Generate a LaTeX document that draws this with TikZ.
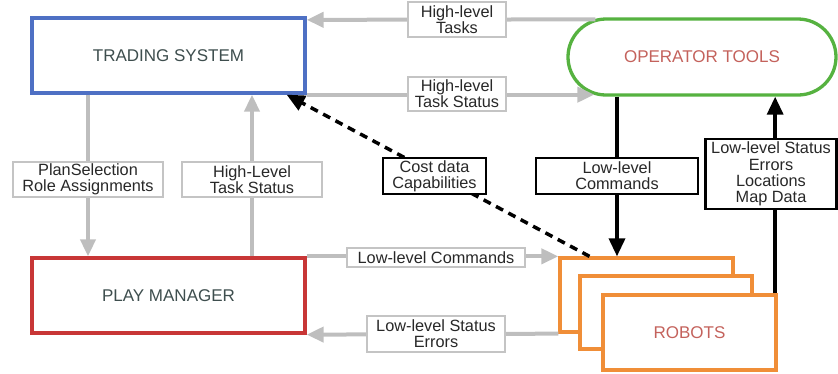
\documentclass[tikz,border=0pt]{standalone}
\usepackage{fontspec}
\setmainfont{Liberation Sans}
\usetikzlibrary{arrows.meta}

\definecolor{tsblue}{RGB}{78,112,196}
\definecolor{otgreen}{RGB}{86,178,64}
\definecolor{pmred}{RGB}{200,54,54}
\definecolor{roborange}{RGB}{240,142,56}
\definecolor{arrgray}{RGB}{190,190,190}
\definecolor{lblgray}{RGB}{196,196,196}
\definecolor{lbltext}{RGB}{40,40,40}
\definecolor{slatetext}{RGB}{62,78,78}
\definecolor{rosetext}{RGB}{196,98,92}

\tikzset{
  mainbox/.style={draw, line width=3.3pt, fill=white, inner sep=0pt, font=\fontsize{17}{18}\selectfont},
  graylbl/.style={draw=lblgray, line width=2.2pt, fill=white, inner sep=0pt, align=center, text=lbltext, font=\fontsize{16.3}{16.3}\selectfont},
  blacklbl/.style={graylbl, draw=black},
  grayarrow/.style={draw=arrgray, line width=4pt, -{Triangle[length=17pt,width=15pt]}},
  blackarrow/.style={draw=black, line width=3.5pt, -{Triangle[length=18pt,width=16pt]}},
  dasharrow/.style={blackarrow, dash pattern=on 8pt off 6pt},
}

\begin{document}
\begin{tikzpicture}[x=1pt,y=-1pt]
\useasboundingbox (0,0) rectangle (838,373);

%Shape: main boxes
\node [mainbox, draw=tsblue, text=slatetext, minimum width=273pt, minimum height=75pt] (ts) at (168.5,55.5) {TRADING SYSTEM};
\node [mainbox, draw=pmred, text=slatetext, minimum width=273pt, minimum height=75pt] (pm) at (168.5,295.5) {PLAY MANAGER};
\node [mainbox, draw=otgreen, text=rosetext, rounded corners=38pt, minimum width=268pt, minimum height=76pt] (ot) at (702,57) {OPERATOR TOOLS};

%Shape: robot stack
\node [mainbox, draw=roborange, minimum width=173pt, minimum height=74pt] (r1) at (646.5,295) {};
\node [mainbox, draw=roborange, minimum width=172pt, minimum height=73pt] (r2) at (666,312.5) {};
\node [mainbox, draw=roborange, text=rosetext, minimum width=173pt, minimum height=75pt] (r3) at (689.5,332.5) {ROBOTS};

%Straight Lines: gray links
\draw [grayarrow] ([xshift=29pt,yshift=-2pt]ot.north west) -- ([yshift=-3.5pt]ts.north east);
\draw [grayarrow] (ts.south east) -- ([xshift=28pt,yshift=2pt]ot.south west);
\draw [grayarrow] (ts.south -| 88,0) coordinate (ps) -- (pm.north -| ps);
\draw [grayarrow] (pm.north -| 252,0) coordinate (hs) -- (ts.south -| hs);
\draw [grayarrow] (pm.north east) -- (r1.north west);
\draw [grayarrow] (r1.south west) -- (pm.south east);

%Straight Lines: black links
\draw [blackarrow] (ot.south -| 617,0) coordinate (lc) -- (r1.north -| lc);
\draw [blackarrow] ([xshift=-2.5pt]r3.north east) coordinate (ls) -- (ot.south -| ls);
\draw [dasharrow] ([xshift=-57pt]r1.north) -- ([xshift=-20pt]ts.south east);

% Text Node
\node [graylbl, minimum width=98pt, minimum height=35pt] (hltasks) at (457,19.5) {High-level\\Tasks};
% Text Node
\node [graylbl, minimum width=98pt, minimum height=34pt] (hlstat) at (457,94) {High-level\\Task Status};
% Text Node
\node [graylbl, minimum width=150pt, minimum height=35pt] (plansel) at (88,179.5) {PlanSelection\\Role Assignments};
% Text Node
\node [graylbl, minimum width=140pt, minimum height=35pt] (hlstat2) at (252,179.5) {High-Level\\Task Status};
% Text Node
\node [blacklbl, minimum width=103pt, minimum height=36pt] (cost) at (434.5,176) {Cost data\\Capabilities};
% Text Node
\node [blacklbl, minimum width=162pt, minimum height=36pt] (llcmd) at (617,176) {Low-level\\Commands};
% Text Node
\node [blacklbl, minimum width=131pt, minimum height=70pt] (llstat) at (771,174) {Low-level Status\\Errors\\Locations\\Map Data};
% Text Node
\node [graylbl, minimum width=178pt, minimum height=19pt] (llcmd2) at (436,257.5) {Low-level Commands};
% Text Node
\node [graylbl, minimum width=138pt, minimum height=36pt] (llstat2) at (436,334) {Low-level Status\\Errors};

\end{tikzpicture}
\end{document}
